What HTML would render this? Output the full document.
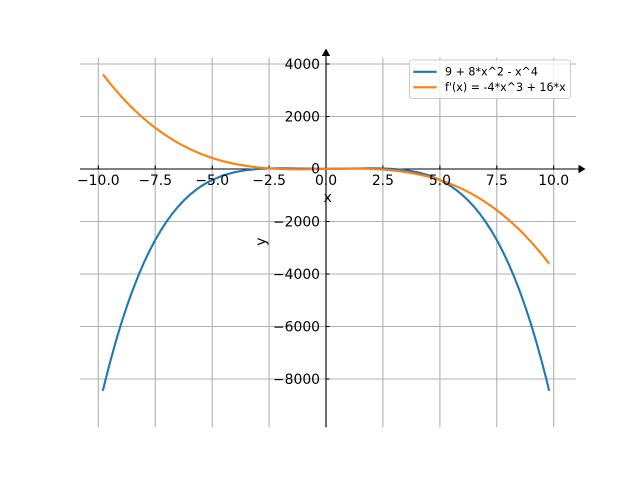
<!DOCTYPE html>
<html>
<head>
<meta charset="utf-8">
<style>
html,body{margin:0;padding:0;background:#fff;}
svg{display:block;}
text{font-family:"DejaVu Sans","Liberation Sans",sans-serif;fill:#000;}
</style>
</head>
<body>
<svg width="640" height="480" viewBox="0 0 640 480" xmlns="http://www.w3.org/2000/svg">
<rect x="0" y="0" width="640" height="480" fill="#fff"/>
<!-- grid -->
<g stroke="#b0b0b0" stroke-width="1.1" fill="none">
<line x1="98.3" y1="57.6" x2="98.3" y2="427.2"/>
<line x1="155.2" y1="57.6" x2="155.2" y2="427.2"/>
<line x1="212.2" y1="57.6" x2="212.2" y2="427.2"/>
<line x1="269.1" y1="57.6" x2="269.1" y2="427.2"/>
<line x1="326" y1="57.6" x2="326" y2="427.2"/>
<line x1="382.9" y1="57.6" x2="382.9" y2="427.2"/>
<line x1="439.9" y1="57.6" x2="439.9" y2="427.2"/>
<line x1="496.8" y1="57.6" x2="496.8" y2="427.2"/>
<line x1="553.7" y1="57.6" x2="553.7" y2="427.2"/>
<line x1="80" y1="64" x2="576" y2="64"/>
<line x1="80" y1="116.5" x2="576" y2="116.5"/>
<line x1="80" y1="169" x2="576" y2="169"/>
<line x1="80" y1="221.5" x2="576" y2="221.5"/>
<line x1="80" y1="274" x2="576" y2="274"/>
<line x1="80" y1="326.5" x2="576" y2="326.5"/>
<line x1="80" y1="379" x2="576" y2="379"/>
</g>
<!-- spines -->
<g stroke="#000" stroke-width="1.1" fill="none">
<line x1="80" y1="169" x2="580" y2="169"/>
<line x1="326" y1="427.2" x2="326" y2="54"/>
</g>
<polygon points="578.5,164.8 585.5,169 578.5,173.2" fill="#000"/>
<polygon points="321.8,56 326,48.5 330.2,56" fill="#000"/>
<!-- ticks (inward) -->
<g stroke="#000" stroke-width="1.1">
<line x1="98.3" y1="169" x2="98.3" y2="165.5"/>
<line x1="155.2" y1="169" x2="155.2" y2="165.5"/>
<line x1="212.2" y1="169" x2="212.2" y2="165.5"/>
<line x1="269.1" y1="169" x2="269.1" y2="165.5"/>
<line x1="382.9" y1="169" x2="382.9" y2="165.5"/>
<line x1="439.9" y1="169" x2="439.9" y2="165.5"/>
<line x1="496.8" y1="169" x2="496.8" y2="165.5"/>
<line x1="553.7" y1="169" x2="553.7" y2="165.5"/>
<line x1="326" y1="64" x2="329.5" y2="64"/>
<line x1="326" y1="116.5" x2="329.5" y2="116.5"/>
<line x1="326" y1="221.5" x2="329.5" y2="221.5"/>
<line x1="326" y1="274" x2="329.5" y2="274"/>
<line x1="326" y1="326.5" x2="329.5" y2="326.5"/>
<line x1="326" y1="379" x2="329.5" y2="379"/>
</g>
<!-- curves -->
<polyline fill="none" stroke="#1f77b4" stroke-width="2.1" stroke-linejoin="round" stroke-linecap="butt"
points="102.85,390.72 106.27,376.84 109.69,363.62 115.38,342.97 121.07,323.98 126.76,306.56 132.46,290.62 138.15,276.07 143.84,262.84 149.53,250.85 155.23,240.01 160.92,230.25 166.61,221.5 172.30,213.69 177.99,206.75 183.69,200.61 189.38,195.22 195.07,190.52 200.77,186.43 206.46,182.92 212.15,179.92 223.54,175.28 234.92,172.12 246.31,170.13 257.69,169 269.08,168.48 280.46,168.34 291.85,168.42 303.23,168.58 314.61,168.71 326,168.76 337.39,168.71 348.77,168.58 360.16,168.42 371.54,168.34 382.93,168.48 394.31,169 405.70,170.13 417.08,172.12 428.47,175.28 439.85,179.92 445.54,182.92 451.24,186.43 456.93,190.52 462.62,195.22 468.31,200.61 474.01,206.75 479.70,213.69 485.39,221.5 491.08,230.25 496.78,240.01 502.47,250.85 508.16,262.84 513.85,276.07 519.55,290.62 525.24,306.56 530.93,323.98 536.62,342.97 542.32,363.62 545.73,376.84 549.15,390.72"/>
<polyline fill="none" stroke="#ff7f0e" stroke-width="2.1" stroke-linejoin="round" stroke-linecap="butt"
points="102.85,74.29 106.27,78.70 109.69,82.97 115.38,89.78 121.07,96.23 126.76,102.33 132.46,108.09 138.15,113.51 143.84,118.6 149.53,123.38 155.23,127.85 160.92,132.03 166.61,135.92 172.30,139.54 177.99,142.89 183.69,145.99 189.38,148.84 195.07,151.45 200.77,153.84 206.46,156.01 212.15,157.97 223.54,161.32 234.92,163.96 246.31,165.97 257.69,167.42 269.08,168.41 280.46,169 291.85,169.28 303.23,169.31 314.61,169.20 326,169 337.39,168.80 348.77,168.69 360.16,168.72 371.54,169 382.93,169.59 394.31,170.58 405.70,172.03 417.08,174.04 428.47,176.68 439.85,180.03 445.54,181.99 451.24,184.16 456.93,186.55 462.62,189.16 468.31,192.01 474.01,195.11 479.70,198.46 485.39,202.08 491.08,205.97 496.78,210.15 502.47,214.62 508.16,219.4 513.85,224.49 519.55,229.91 525.24,235.67 530.93,241.77 536.62,248.22 542.32,255.03 545.73,259.30 549.15,263.71"/>
<!-- x tick labels -->
<g font-size="13.9" text-anchor="middle">
<text x="98.3" y="184.8">−10.0</text>
<text x="155.2" y="184.8">−7.5</text>
<text x="212.2" y="184.8">−5.0</text>
<text x="269.1" y="184.8">−2.5</text>
<text x="326" y="184.8">0.0</text>
<text x="382.9" y="184.8">2.5</text>
<text x="439.9" y="184.8">5.0</text>
<text x="496.8" y="184.8">7.5</text>
<text x="553.7" y="184.8">10.0</text>
</g>
<!-- y tick labels -->
<g font-size="13.9" text-anchor="end">
<text x="320" y="68.8">4000</text>
<text x="320" y="121.3">2000</text>
<text x="320" y="173.3">0</text>
<text x="320" y="226.3">−2000</text>
<text x="320" y="278.8">−4000</text>
<text x="320" y="331.3">−6000</text>
<text x="320" y="383.8">−8000</text>
</g>
<!-- axis labels -->
<text x="327.7" y="202" font-size="13.9" text-anchor="middle">x</text>
<text transform="translate(265.5,241.7) rotate(-90)" x="0" y="0" font-size="13.9" text-anchor="middle">y</text>
<!-- legend -->
<rect x="409.5" y="60" width="161" height="38.5" rx="2.5" ry="2.5" fill="#fff" fill-opacity="0.8" stroke="#cccccc" stroke-width="1"/>
<line x1="413.3" y1="71.8" x2="436.7" y2="71.8" stroke="#1f77b4" stroke-width="2.1"/>
<line x1="413.3" y1="87.3" x2="436.7" y2="87.3" stroke="#ff7f0e" stroke-width="2.1"/>
<g font-size="11.1">
<text x="445" y="75.6">9 + 8*x^2 - x^4</text>
<text x="445" y="91.2">f'(x) = -4*x^3 + 16*x</text>
</g>
</svg>
</body>
</html>
